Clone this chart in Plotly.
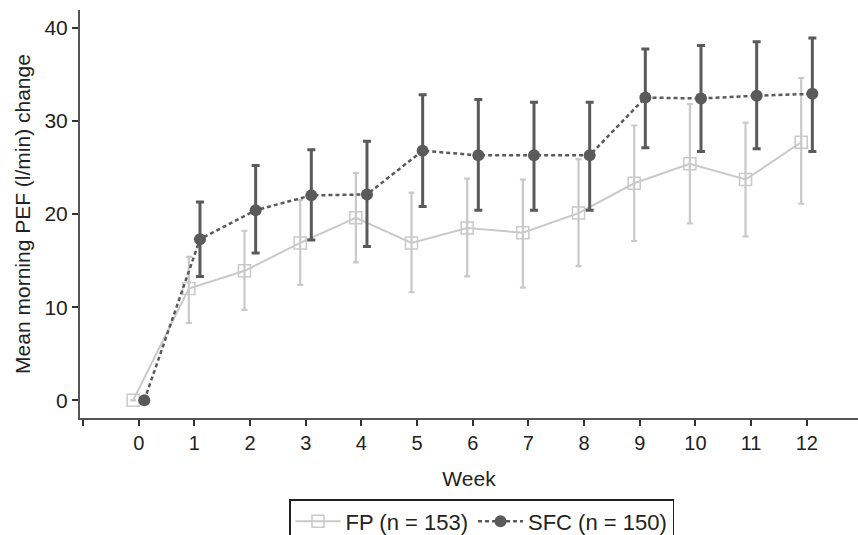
import plotly.graph_objects as go

weeks = [0, 1, 2, 3, 4, 5, 6, 7, 8, 9, 10, 11, 12]

fp_mean = [0, 12.0, 13.9, 16.9, 19.6, 16.9, 18.5, 18.0, 20.1, 23.3, 25.4, 23.7, 27.7]
fp_upper = [0, 15.4, 18.2, 21.5, 24.4, 22.3, 23.8, 23.7, 25.9, 29.5, 31.8, 29.8, 34.6]
fp_lower = [0, 8.3, 9.7, 12.4, 14.8, 11.6, 13.3, 12.1, 14.4, 17.1, 19.0, 17.6, 21.1]

sfc_mean = [0, 17.3, 20.4, 22.0, 22.1, 26.8, 26.3, 26.3, 26.3, 32.5, 32.4, 32.7, 32.9]
sfc_upper = [0, 21.3, 25.2, 26.9, 27.8, 32.8, 32.3, 32.0, 32.0, 37.7, 38.1, 38.5, 38.9]
sfc_lower = [0, 13.3, 15.8, 17.2, 16.5, 20.8, 20.4, 20.4, 20.4, 27.1, 26.7, 27.0, 26.7]

fp_name = "FP (n = 153)"
sfc_name = "SFC (n = 150)"
x_title = "Week"
y_title = "Mean morning PEF (l/min) change"
y_ticks = [0, 10, 20, 30, 40]

dodge = 0.1
fp_x = [w - dodge for w in weeks]
sfc_x = [w + dodge for w in weeks]

FP_COL = "#c9c9c9"
SFC_COL = "#5a5a5a"
TXT = "#222222"
FONT = "Liberation Sans, Arial, sans-serif"

fig = go.Figure()
fig.add_trace(go.Scatter(
    x=fp_x, y=fp_mean, name=fp_name, mode="lines+markers",
    line=dict(color=FP_COL, width=2),
    marker=dict(symbol="square-open", size=12, color=FP_COL, line=dict(width=1.5, color=FP_COL)),
    error_y=dict(type="data", symmetric=False,
                 array=[u - m for u, m in zip(fp_upper, fp_mean)],
                 arrayminus=[m - l for m, l in zip(fp_mean, fp_lower)],
                 color=FP_COL, thickness=2.2, width=3),
))
fig.add_trace(go.Scatter(
    x=sfc_x, y=sfc_mean, name=sfc_name, mode="lines+markers",
    line=dict(color=SFC_COL, width=2.5, dash="4px,3px"),
    marker=dict(symbol="circle", size=12, color=SFC_COL),
    error_y=dict(type="data", symmetric=False,
                 array=[u - m for u, m in zip(sfc_upper, sfc_mean)],
                 arrayminus=[m - l for m, l in zip(sfc_mean, sfc_lower)],
                 color=SFC_COL, thickness=3, width=4),
))

xtickvals = list(range(-1, 14))
xticktext = [str(v) if 0 <= v <= 12 else "" for v in xtickvals]

fig.update_layout(
    width=858, height=535,
    margin=dict(l=80, r=0, t=10, b=117),
    paper_bgcolor="white", plot_bgcolor="white",
    font=dict(family=FONT, size=21, color=TXT),
    showlegend=True,
    legend=dict(
        orientation="h", xref="container", yref="container",
        x=289 / 858, y=1 - 499 / 535, xanchor="left", yanchor="top",
        bordercolor="#222222", borderwidth=1.5, bgcolor="white",
        font=dict(family=FONT, size=22, color=TXT),
        itemwidth=45, tracegroupgap=0,
    ),
    xaxis=dict(
        range=[-1.055, 12.92], tickmode="array", tickvals=xtickvals, ticktext=xticktext,
        showgrid=False, zeroline=False, showline=True, linecolor="#555555", linewidth=2,
        ticks="outside", ticklen=6, tickwidth=2, tickcolor="#333333",
        tickfont=dict(size=20),
        title=dict(text=x_title, font=dict(size=21), standoff=18),
    ),
    yaxis=dict(
        range=[-1.9, 41.9], tickmode="array", tickvals=y_ticks,
        showgrid=False, zeroline=False, showline=True, linecolor="#555555", linewidth=2,
        ticks="outside", ticklen=6, tickwidth=2, tickcolor="#333333",
        tickfont=dict(size=21),
        title=dict(text=y_title, font=dict(size=21), standoff=8),
    ),
)

fig.write_html("out.html")
